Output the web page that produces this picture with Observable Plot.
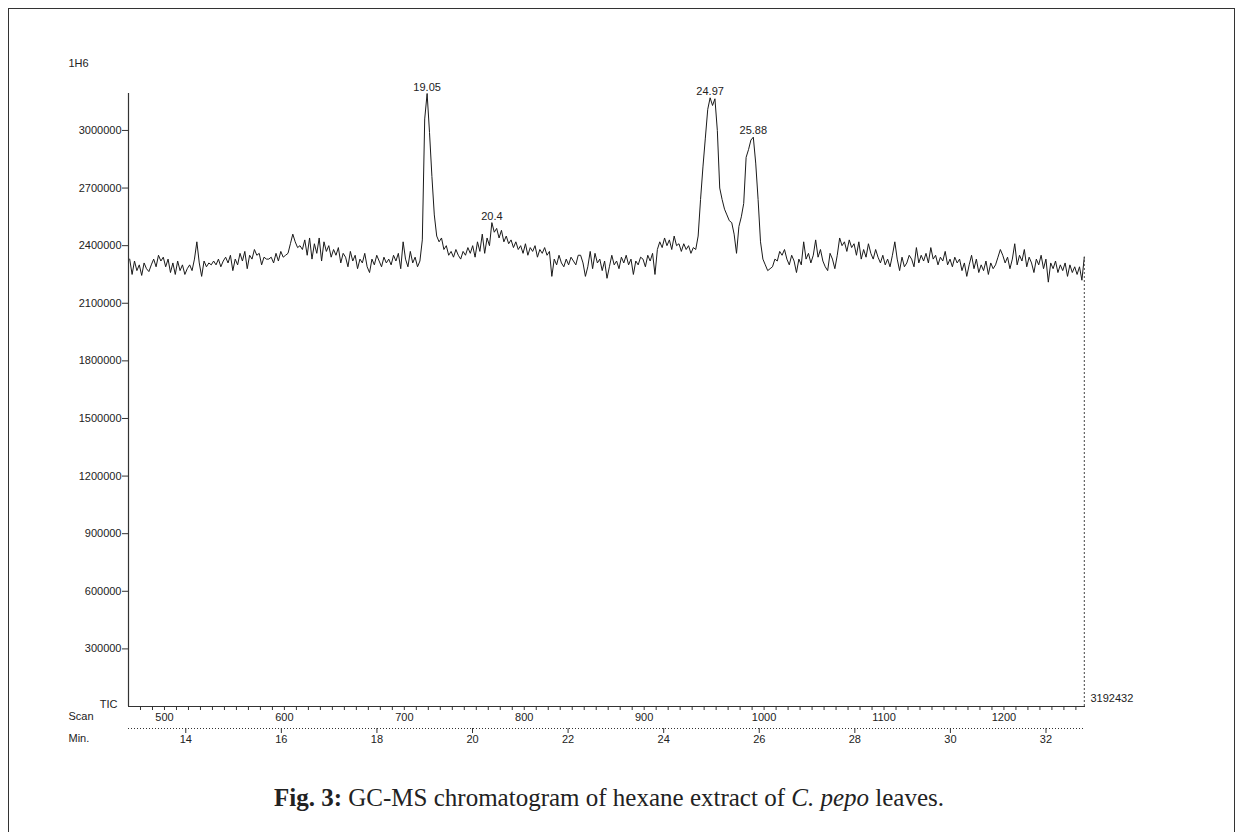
<!DOCTYPE html>
<html>
<head>
<meta charset="utf-8">
<script src="https://cdn.jsdelivr.net/npm/d3@7"></script>
<script src="https://cdn.jsdelivr.net/npm/@observablehq/plot@0.6"></script>
<style>
  body { margin: 0; background: #fff; }
  #page { position: relative; width: 1242px; height: 832px; overflow: hidden; background: #fff; }
  #frame { position: absolute; left: 8px; top: 8px; width: 1227px; height: 900px; border: 1.5px solid #333; box-sizing: border-box; }
  #chart { position: absolute; left: 0; top: 0; }
  #caption { position: absolute; left: 0; width: 1218px; top: 784px; text-align: center;
             font-family: "Liberation Serif", "Times New Roman", serif; font-size: 25px; color: #222; }
</style>
</head>
<body>
<div id="page">
  <div id="frame"></div>
  <div id="chart"></div>
  <div id="caption"><b>Fig. 3:</b> GC-MS chromatogram of hexane extract of <i>C. pepo</i> leaves.</div>
</div>
<script>
// ---- data ----
// TIC abundance in thousands, sampled every 2 scans starting at scan 471
const firstScan = 471;
const scanStep = 2;
const ticK = [
  // scans 471-541
  2330,2250,2320,2270,2300,2245,2310,2280,2265,2300,2330,2290,2350,2320,2340,2290,2330,2260,2310,2250,2320,2270,2300,2250,2280,2300,2270,2330,2420,2310,2240,2320,2290,2310,2300,2320,
  // 543-601
  2300,2330,2290,2320,2340,2310,2350,2270,2330,2300,2360,2320,2370,2280,2350,2330,2380,2350,2360,2300,2340,2330,2330,2340,2310,2360,2320,2370,2340,2350,
  // 603-641
  2360,2410,2460,2420,2390,2400,2380,2430,2350,2440,2330,2410,2360,2440,2320,2420,2370,2400,2340,2380,
  // 643-713
  2350,2390,2310,2360,2340,2290,2370,2320,2350,2280,2330,2310,2360,2290,2260,2330,2300,2350,2320,2290,2340,2310,2330,2300,2350,2320,2360,2280,2420,2330,2290,2370,2310,2340,2290,2320,
  // 715-739 (peak 19.05)
  2430,3060,3192.432,2990,2760,2560,2450,2420,2440,2380,2400,2350,2370,
  // 741-771
  2340,2380,2350,2330,2370,2350,2390,2360,2400,2340,2420,2370,2460,2360,2440,2400,
  // 773-819 (peak 20.4)
  2520,2470,2490,2440,2480,2420,2450,2410,2430,2390,2420,2380,2400,2360,2410,2350,2390,2370,2400,2340,2380,2360,2390,2350,
  // 821-909
  2370,2240,2330,2300,2350,2310,2290,2330,2300,2340,2320,2300,2350,2350,2310,2240,2290,2370,2280,2360,2310,2330,2270,2320,2230,2290,2350,2300,2320,2280,2340,2310,2350,2300,2330,2250,2320,2300,2340,2330,2290,2350,2320,2360,2250,
  // 911-941
  2380,2420,2390,2440,2400,2430,2380,2450,2400,2410,2370,2410,2380,2400,2360,2390,
  // 943-1005 (peaks 24.97 and 25.88)
  2380,2450,2640,2810,2960,3110,3170,3130,3165,3000,2700,2640,2590,2560,2530,2520,2460,2360,2500,2550,2620,2860,2900,2950,2965,2830,2640,2420,2330,2300,2270,2280,
  // 1007-1267
  2290,2330,2320,2370,2350,2380,2330,2300,2350,2320,
  2260,2330,2300,2420,2330,2360,2310,2350,2430,2340,
  2380,2320,2290,2270,2360,2330,2280,2350,2440,2400,
  2420,2370,2430,2390,2410,2350,2420,2330,2380,2340,
  2410,2360,2330,2380,2340,2310,2350,2300,2330,2290,
  2350,2420,2330,2270,2340,2290,2310,2350,2330,2290,
  2390,2310,2350,2320,2360,2310,2390,2330,2350,2300,
  2340,2320,2370,2300,2330,2290,2340,2310,2330,2270,
  2310,2240,2300,2350,2280,2330,2260,2300,2270,2320,
  2250,2310,2280,2300,2340,2380,2350,2310,2340,2280,
  2330,2410,2300,2350,2320,2380,2290,2340,2310,2260,
  2330,2300,2350,2280,2330,2210,2310,2280,2320,2260,
  2300,2270,2310,2240,2300,2260,2290,2250,2290,2220,
  2340
];
const ticMax = 3192432;
const scanMin = 470;
const scanMax = 1268;
const yTicks = [300000, 600000, 900000, 1200000, 1500000, 1800000, 2100000, 2400000, 2700000, 3000000];
const scanTicks = d3.range(480, 1261, 10);
const minLabels = [14, 16, 18, 20, 22, 24, 26, 28, 30, 32];
const refScan = 719, refMin = 19.05, scansPerMin = 39.85;
const peakLabels = ["19.05", "20.4", "24.97", "25.88"];
const peakScans = [719, 773, 955, 991];

// ---- build ----
const data = ticK.map((v, i) => ({scan: firstScan + i * scanStep, tic: v * 1000}));
const last = data[data.length - 1];
const minTickScans = minLabels.map(m => refScan + (m - refMin) * scansPerMin);
const peaks = peakLabels.map((t, i) => {
  const d = data.find(p => p.scan === peakScans[i]);
  return {scan: d.scan, tic: d.tic, label: t};
});
const ink = "#222";

const chart = Plot.plot({
  width: 1242,
  height: 760,
  marginLeft: 128,
  marginRight: 157,
  marginTop: 93,
  marginBottom: 54,
  style: {fontFamily: '"Liberation Sans", Arial, sans-serif', fontSize: "11px", color: ink, background: "transparent", overflow: "visible"},
  x: {domain: [scanMin, scanMax], label: null},
  y: {domain: [0, ticMax], label: null},
  marks: [
    Plot.ruleX([scanMin], {y1: 0, y2: ticMax, stroke: "#333", strokeWidth: 1.2}),
    Plot.axisY(yTicks, {tickSize: 6, tickPadding: 1, tickFormat: d => String(d), label: null, stroke: "#333"}),
    Plot.ruleY([0], {stroke: "#333", strokeWidth: 1.2}),
    Plot.axisX(scanTicks, {tickSize: 4, tickPadding: 3, tickFormat: d => (d % 100 === 0 ? String(d) : ""), label: null, stroke: "#333"}),
    Plot.ruleY([0], {dy: 22, stroke: "#333", strokeDasharray: "1,2"}),
    Plot.axisX(minTickScans, {dy: 22, tickSize: 5, tickPadding: 2, tickFormat: d => String(Math.round(refMin + (d - refScan) / scansPerMin)), label: null, stroke: "#333"}),
    Plot.line(data, {x: "scan", y: "tic", stroke: "#1a1a1a", strokeWidth: 1}),
    Plot.ruleX([last], {x: "scan", y1: 0, y2: "tic", stroke: "#444", strokeDasharray: "2,2"}),
    Plot.text(peaks, {x: "scan", y: "tic", text: "label", lineAnchor: "bottom", dy: -3, fill: ink}),
    Plot.text(["1H6"], {frameAnchor: "top-left", dx: -60, dy: -34, textAnchor: "start", fill: ink}),
    Plot.text(["TIC"], {frameAnchor: "bottom-left", dx: -11, dy: 1, textAnchor: "end", fill: ink}),
    Plot.text(["Scan"], {frameAnchor: "bottom-left", dx: -60, dy: 13, textAnchor: "start", fill: ink}),
    Plot.text(["Min."], {frameAnchor: "bottom-left", dx: -60, dy: 35, textAnchor: "start", fill: ink}),
    Plot.text([String(ticMax)], {frameAnchor: "bottom-right", dx: 5, dy: -5, textAnchor: "start", fill: ink})
  ]
});
document.getElementById("chart").appendChild(chart);
</script>
</body>
</html>
